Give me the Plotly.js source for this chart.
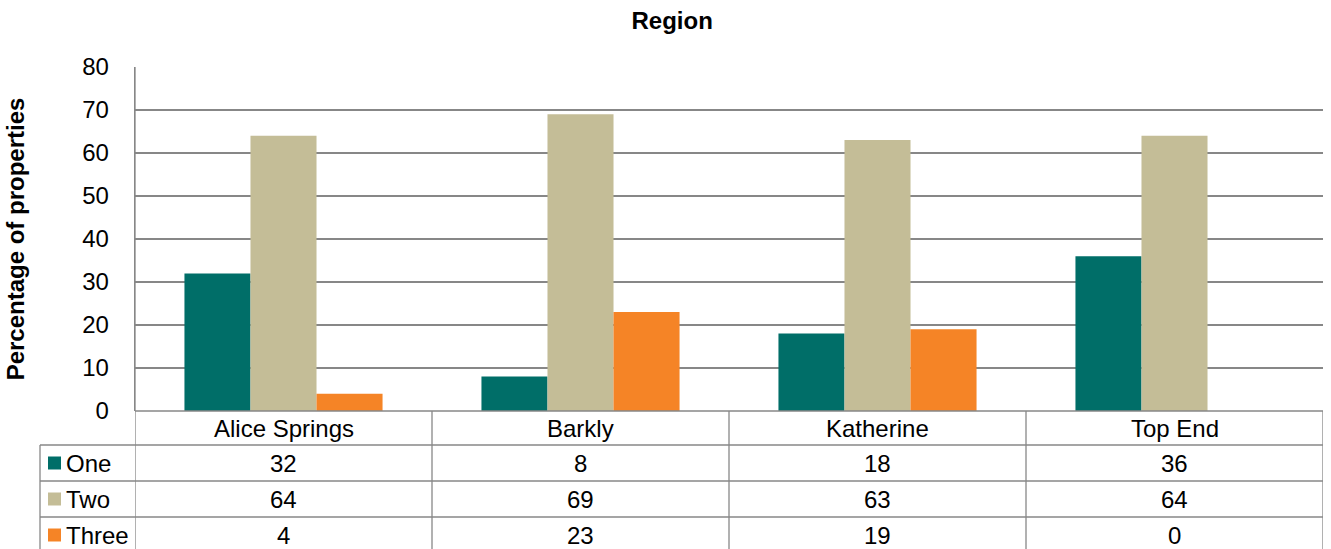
<!DOCTYPE html>
<html>
<head>
<meta charset="utf-8">
<script src="https://cdn.plot.ly/plotly-3.0.1.min.js"></script>
<style>html,body{margin:0;padding:0;background:#fff;}#chart{width:1331px;height:549px;}</style>
</head>
<body>
<div id="chart"></div>
<script>
// ---- data ----
const regions = ['Alice Springs', 'Barkly', 'Katherine', 'Top End'];
const seriesNames = ['One', 'Two', 'Three'];
const valuesOne = [32, 8, 18, 36];
const valuesTwo = [64, 69, 63, 64];
const valuesThree = [4, 23, 19, 0];
const seriesColors = ['#006E68', '#C4BD97', '#F58426'];
const yTicks = [0, 10, 20, 30, 40, 50, 60, 70, 80];
const chartTitle = 'Region';
const yTitle = 'Percentage of properties';

const seriesValues = [valuesOne, valuesTwo, valuesThree];

// ---- geometry helpers (pixel layout -> paper coords) ----
const W = 1331, H = 549;
const L = 135, R = 1323, T = 67, B = 411;
const px2x = p => (p - L) / (R - L);
const px2y = p => (B - p) / (B - T);
const FONT = 'Liberation Sans, Arial, sans-serif';
const FS = 24;
const GRID = '#878787';

const traces = seriesNames.map((name, i) => ({
  type: 'bar',
  name: name,
  x: regions.map((r, j) => j),
  y: seriesValues[i],
  marker: { color: seriesColors[i], line: { width: 0 } },
  hoverinfo: 'y+name'
}));

const shapes = [];
const annotations = [];
const lineStyle = { color: GRID, width: 1.3 };

// row boundaries (px)
const rowTops = [411, 445, 481, 517, 553];
// horizontal lines
shapes.push({ type: 'line', xref: 'paper', yref: 'paper', x0: 0, x1: 1, y0: px2y(411), y1: px2y(411), line: lineStyle, layer: 'above' });
for (let k = 1; k < rowTops.length; k++) {
  shapes.push({ type: 'line', xref: 'paper', yref: 'paper', x0: px2x(40), x1: 1, y0: px2y(rowTops[k]), y1: px2y(rowTops[k]), line: lineStyle, layer: 'above' });
}
// vertical lines: left label column
shapes.push({ type: 'line', xref: 'paper', yref: 'paper', x0: px2x(40), x1: px2x(40), y0: px2y(445), y1: px2y(560), line: lineStyle, layer: 'above' });
// category boundaries in the table
for (let j = 0; j <= regions.length; j++) {
  shapes.push({ type: 'line', xref: 'x', yref: 'paper', x0: j - 0.5, x1: j - 0.5, y0: j === 0 ? 1 : 0, y1: px2y(560), line: lineStyle, layer: 'above' });
}

// header row: category names
regions.forEach((r, j) => {
  annotations.push({ xref: 'x', yref: 'paper', x: j, y: px2y(428), text: r, showarrow: false,
    xanchor: 'center', yanchor: 'middle', font: { family: FONT, size: FS, color: '#000' } });
});
// data rows
const rowCenters = [463, 499, 535];
seriesNames.forEach((name, i) => {
  // legend key
  shapes.push({ type: 'rect', xref: 'paper', yref: 'paper',
    x0: px2x(48), x1: px2x(61), y0: px2y(rowCenters[i] - 6.5), y1: px2y(rowCenters[i] + 6.5),
    fillcolor: seriesColors[i], line: { width: 0 }, layer: 'above' });
  annotations.push({ xref: 'paper', yref: 'paper', x: px2x(64), y: px2y(rowCenters[i]), text: name, showarrow: false,
    xanchor: 'left', yanchor: 'middle', font: { family: FONT, size: FS, color: '#000' } });
  seriesValues[i].forEach((v, j) => {
    annotations.push({ xref: 'x', yref: 'paper', x: j, y: px2y(rowCenters[i]), text: String(v), showarrow: false,
      xanchor: 'center', yanchor: 'middle', font: { family: FONT, size: FS, color: '#000' } });
  });
});

const layout = {
  width: W, height: H,
  margin: { l: L, r: W - R, t: T, b: H - B, pad: 0 },
  paper_bgcolor: '#fff', plot_bgcolor: '#fff',
  font: { family: FONT, size: FS, color: '#000' },
  title: { text: '<b>' + chartTitle + '</b>', x: 0.505, xanchor: 'center', y: 1 - 21 / H, yanchor: 'middle',
    font: { family: FONT, size: FS, color: '#000' } },
  showlegend: false,
  barmode: 'group', bargap: 0.333, bargroupgap: 0,
  xaxis: { type: 'linear', range: [-0.5, 3.5], showticklabels: false, showgrid: false, zeroline: false,
    showline: false, ticks: '', fixedrange: true },
  yaxis: { range: [0, 80], tickvals: yTicks, ticktext: yTicks.map(String), showgrid: true, gridcolor: GRID, gridwidth: 1.3,
    zeroline: false, showline: true, linecolor: GRID, linewidth: 1.3, ticks: '', ticklabelstandoff: 20,
    tickfont: { family: FONT, size: FS, color: '#000' },
    title: { text: '<b>' + yTitle + '</b>', standoff: 50, font: { family: FONT, size: FS, color: '#000' } },
    automargin: false, fixedrange: true },
  shapes: shapes,
  annotations: annotations
};

Plotly.newPlot('chart', traces, layout, { displayModeBar: false, staticPlot: true });
</script>
</body>
</html>
